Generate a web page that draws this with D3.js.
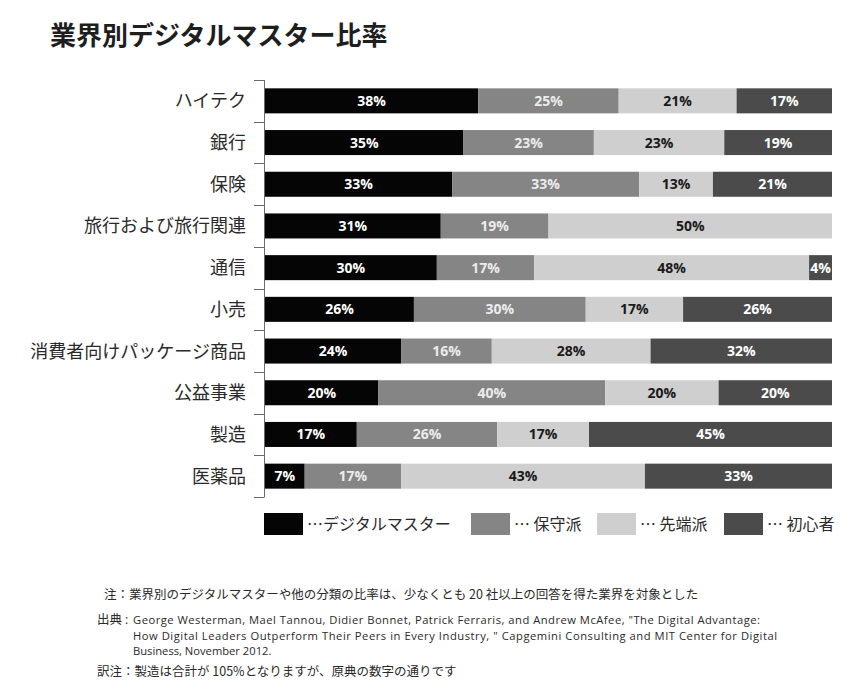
<!DOCTYPE html>
<html>
<head>
<meta charset="utf-8">
<script src="https://cdn.jsdelivr.net/npm/d3@7"></script>
<style>
  body { margin: 0; background: #fff; }
  svg { display: block; }
</style>
</head>
<body>
<div id="chart"></div>
<script>
// 業界別デジタルマスター比率
var categories = ["ハイテク", "銀行", "保険", "旅行および旅行関連", "通信", "小売",
                  "消費者向けパッケージ商品", "公益事業", "製造", "医薬品"];
var master       = [38, 35, 33, 31, 30, 26, 24, 20, 17, 7];   // デジタルマスター
var conservative = [25, 23, 33, 19, 17, 30, 16, 40, 26, 17];  // 保守派
var fashionista  = [21, 23, 13, 50, 48, 17, 28, 20, 17, 43];  // 先端派
var beginner     = [17, 19, 21, 0, 4, 26, 32, 20, 45, 33];    // 初心者

var seriesKeys   = ["master", "conservative", "fashionista", "beginner"];
var legendLabels = ["…デジタルマスター", "… 保守派", "… 先端派", "… 初心者"];

var noteText = "注：業界別のデジタルマスターや他の分類の比率は、少なくとも 20 社以上の回答を得た業界を対象とした";
var sourceLines = [
  "George Westerman, Mael Tannou, Didier Bonnet, Patrick Ferraris, and Andrew McAfee, \"The Digital Advantage:",
  "How Digital Leaders Outperform Their Peers in Every Industry,  \" Capgemini Consulting and MIT Center for Digital",
  "Business, November 2012."
];
var sourceWidths = [627, 644, null];
var translatorNote = "訳注：製造は合計が 105%となりますが、原典の数字の通りです";

var W = 860, H = 695;
var jp = "'Noto Sans CJK JP', 'Noto Sans', sans-serif";
var latin = "'Open Sans', 'Noto Sans', sans-serif";

var color = d3.scaleOrdinal()
  .domain(seriesKeys)
  .range(["#050505", "#858585", "#cfcfcf", "#4b4b4b"]);
var textColor = d3.scaleOrdinal()
  .domain(seriesKeys)
  .range(["#ffffff", "#ececec", "#1a1a1a", "#ffffff"]);

// 表を作る
var table = categories.map(function(c, i) {
  return { cat: c, master: master[i], conservative: conservative[i],
           fashionista: fashionista[i], beginner: beginner[i] };
});

// 行ごとの合計で正規化（製造は105%）
var stack = d3.stack().keys(seriesKeys).offset(d3.stackOffsetExpand);
var stacked = stack(table);

var svg = d3.select("#chart").append("svg")
  .attr("width", W).attr("height", H);

svg.append("rect").attr("width", W).attr("height", H).attr("fill", "#fff");

// タイトル
svg.append("text")
  .attr("x", 50).attr("y", 45)
  .attr("font-family", jp)
  .attr("font-weight", 700)
  .attr("font-size", 26)
  .attr("fill", "#1e1e1e")
  .text("業界別デジタルマスター比率");

var x = d3.scaleLinear().domain([0, 1]).range([265, 832]);
var y = d3.scaleBand().domain(categories).range([80, 497])
  .paddingInner(0.4).paddingOuter(0.2);

// 棒
var layer = svg.append("g").selectAll("g")
  .data(stacked)
  .join("g")
  .attr("fill", function(d) { return color(d.key); });

layer.selectAll("rect")
  .data(function(d) { return d.map(function(v) { v.key = d.key; return v; }); })
  .join("rect")
  .attr("x", function(d) { return x(d[0]); })
  .attr("y", function(d) { return y(d.data.cat); })
  .attr("width", function(d) { return x(d[1]) - x(d[0]); })
  .attr("height", y.bandwidth());

// 値ラベル
layer.selectAll("text")
  .data(function(d) { return d.filter(function(v) { return v.data[v.key] > 0; }); })
  .join("text")
  .attr("x", function(d) { return (x(d[0]) + x(d[1])) / 2; })
  .attr("y", function(d) { return y(d.data.cat) + y.bandwidth() / 2; })
  .attr("dy", "0.36em")
  .attr("text-anchor", "middle")
  .attr("font-family", latin)
  .attr("font-weight", 700)
  .attr("font-size", 14)
  .attr("fill", function(d) { return textColor(d.key); })
  .text(function(d) { return d.data[d.key] + "%"; });

// 軸（区切りの目盛）
var axis = svg.append("g").attr("stroke", "#6a6a6a").attr("stroke-width", 1);
var bounds = categories.map(function(c) { return y(c) - y.step() * y.paddingInner() / 2; });
bounds.push(y.range()[1]);
axis.append("line")
  .attr("x1", 264.5).attr("x2", 264.5)
  .attr("y1", y.range()[0]).attr("y2", y.range()[1]);
axis.selectAll("line.tick")
  .data(bounds)
  .join("line")
  .attr("class", "tick")
  .attr("x1", 254).attr("x2", 264.5)
  .attr("y1", function(d) { return Math.round(d) + 0.5; })
  .attr("y2", function(d) { return Math.round(d) + 0.5; });

// カテゴリ名
svg.append("g").selectAll("text")
  .data(categories)
  .join("text")
  .attr("x", 246)
  .attr("y", function(d) { return y(d) + y.bandwidth() / 2; })
  .attr("dy", "0.36em")
  .attr("text-anchor", "end")
  .attr("font-family", jp)
  .attr("font-size", 18)
  .attr("fill", "#2a2a2a")
  .text(function(d) { return d; });

// 凡例
var legendX = [264, 471, 597, 724];
var legend = svg.append("g").selectAll("g")
  .data(seriesKeys)
  .join("g")
  .attr("transform", function(d, i) { return "translate(" + legendX[i] + ",513)"; });
legend.append("rect")
  .attr("width", 39).attr("height", 22)
  .attr("fill", function(d) { return color(d); });
legend.append("text")
  .attr("x", 43).attr("y", 11).attr("dy", "0.36em")
  .attr("font-family", jp)
  .attr("font-size", 16)
  .attr("fill", "#2a2a2a")
  .text(function(d, i) { return legendLabels[i]; });

// 注・出典
var foot = svg.append("g")
  .attr("font-family", jp)
  .attr("font-size", 12.5)
  .attr("fill", "#2a2a2a");
foot.append("text")
  .attr("x", 104).attr("y", 599)
  .text(noteText);
foot.append("text")
  .attr("x", 97).attr("y", 624)
  .text("出典");
foot.append("text")
  .attr("x", 125).attr("y", 624)
  .attr("font-family", latin)
  .attr("font-size", 12)
  .text(":");
var src = foot.selectAll("text.src")
  .data(sourceLines)
  .join("text")
  .attr("class", "src")
  .attr("x", 133)
  .attr("y", function(d, i) { return 624 + i * 15.5; })
  .attr("font-family", latin)
  .attr("font-size", 11.2)
  .text(function(d) { return d; });
src.filter(function(d, i) { return sourceWidths[i]; })
  .attr("textLength", function(d, i) { return sourceWidths[sourceLines.indexOf(d)]; })
  .attr("lengthAdjust", "spacing");
foot.append("text")
  .attr("x", 97).attr("y", 676)
  .text(translatorNote);
</script>
</body>
</html>
